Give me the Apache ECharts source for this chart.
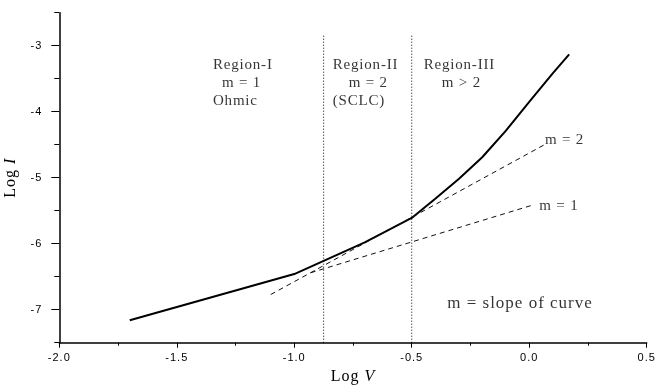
<!DOCTYPE html>
<html>
<head>
<meta charset="utf-8">
<script src="https://cdn.jsdelivr.net/npm/echarts@6/dist/echarts.min.js"></script>
<style>
html,body{margin:0;padding:0;background:#fff;}
#chart{width:655px;height:385px;}
</style>
</head>
<body>
<div id="chart"></div>
<script>
// ---- data ----
const curveX = [-1.7, -1.0, -0.7, -0.5, -0.4, -0.3, -0.2, -0.1, 0.0, 0.1, 0.17];
const curveY = [-7.16, -6.46, -5.98, -5.61, -5.32, -5.02, -4.69, -4.29, -3.85, -3.42, -3.13];
const m1X = [-0.93, 0.01];
const m1Y = [-6.44, -5.42];
const m2X = [-1.1, 0.07];
const m2Y = [-6.77, -4.49];
const boundaryX = [-0.875, -0.5];
const boundaryY = [-7.5, -2.84];
const xTicks = [-2.0, -1.5, -1.0, -0.5, 0.0, 0.5];
const yTickLabels = [-7, -6, -5, -4, -3];
const yMinorTicks = [-7.5, -6.5, -5.5, -4.5, -3.5, -2.5];
const annotTexts = ['Region-I', 'm = 1', 'Ohmic', 'Region-II', 'm = 2', '(SCLC)', 'Region-III', 'm > 2', 'm = 2', 'm = 1', 'm = slope of curve'];
const annotX = [-1.346, -1.308, -1.346, -0.836, -0.768, -0.836, -0.449, -0.372, 0.067, 0.043, -0.349];
const annotY = [-3.29, -3.565, -3.84, -3.29, -3.565, -3.84, -3.29, -3.565, -4.43, -5.43, -6.9];
const annotSize = [15, 15, 15, 15, 15, 15, 15, 15, 15, 15, 17];

// letter spacing of the original typesetting (rendering tweak only)
(function () {
  const P = CanvasRenderingContext2D.prototype;
  if (!('letterSpacing' in P)) return;
  function spacingFor(font) {
    const m = /(\d+(?:\.\d+)?)px/.exec(font || '');
    const size = m ? parseFloat(m[1]) : 12;
    if (/Sans/.test(font)) return '1px';
    if (/Serif/.test(font)) {
      if (size === 15) return '0.8px';
      if (size === 16) return '1px';
      if (size === 17) return '1px';
    }
    return '0px';
  }
  ['fillText', 'strokeText', 'measureText'].forEach(fn => {
    const orig = P[fn];
    P[fn] = function () {
      try { this.letterSpacing = spacingFor(this.font); } catch (e) {}
      return orig.apply(this, arguments);
    };
  });
})();

const zip = (xs, ys) => xs.map((x, i) => [x, ys[i]]);

const chart = echarts.init(document.getElementById('chart'), null, {renderer: 'canvas'});
const sans = 'Liberation Sans';
const serif = 'Liberation Serif';

const boundarySeries = boundaryX.map(bx => ({
  type: 'line', xAxisIndex: 0, yAxisIndex: 0,
  data: [[bx, boundaryY[0]], [bx, boundaryY[1]]],
  symbol: 'none', silent: true,
  lineStyle: {color: '#000', width: 1, type: [1, 2]}
}));

const nameStyle = {fontFamily: serif, fontSize: 16, color: '#000',
  rich: {i: {fontFamily: serif, fontSize: 16, fontStyle: 'italic', color: '#000'}}};

const option = {
  animation: false,
  backgroundColor: '#fff',
  grid: {left: 59.3, right: 8.3, top: 12.7, bottom: 42.3, containLabel: false, outerBoundsMode: 'none'},
  xAxis: {
    type: 'value', min: xTicks[0], max: xTicks[xTicks.length - 1], interval: 0.5,
    name: 'Log {i|V}', nameLocation: 'middle', nameGap: 26,
    nameTextStyle: nameStyle,
    axisLine: {onZero: false, lineStyle: {color: '#000', width: 1.5}},
    axisTick: {show: true, inside: false, length: 5, lineStyle: {color: '#000', width: 1}},
    minorTick: {show: true, splitNumber: 2, length: 3, lineStyle: {color: '#000', width: 1}},
    axisLabel: {fontFamily: sans, fontSize: 11, color: '#000', margin: 9,
      formatter: v => v.toFixed(1)},
    splitLine: {show: false}
  },
  yAxis: [{
    type: 'value', min: yMinorTicks[0], max: yMinorTicks[yMinorTicks.length - 1],
    name: 'Log {i|I}', nameLocation: 'middle', nameGap: 31, nameRotate: 90,
    nameTextStyle: nameStyle,
    axisLine: {onZero: false, lineStyle: {color: '#000', width: 1.5}},
    axisTick: {show: true, inside: false, length: 8, customValues: yTickLabels,
      lineStyle: {color: '#000', width: 1}},
    axisLabel: {fontFamily: sans, fontSize: 11, color: '#000', margin: 17,
      customValues: yTickLabels, formatter: v => String(v)},
    splitLine: {show: false}
  }, {
    type: 'value', position: 'left', min: yMinorTicks[0], max: yMinorTicks[yMinorTicks.length - 1],
    axisLine: {show: false, onZero: false},
    axisTick: {show: true, inside: false, length: 5, customValues: yMinorTicks,
      lineStyle: {color: '#000', width: 1}},
    axisLabel: {show: false},
    splitLine: {show: false}
  }],
  series: [
    {
      type: 'line', xAxisIndex: 0, yAxisIndex: 0,
      data: zip(curveX, curveY), symbol: 'none', silent: true,
      lineStyle: {color: '#000', width: 2}
    },
    {
      type: 'line', xAxisIndex: 0, yAxisIndex: 0,
      data: zip(m1X, m1Y), symbol: 'none', silent: true,
      lineStyle: {color: '#111', width: 1, type: [5, 4]}
    },
    {
      type: 'line', xAxisIndex: 0, yAxisIndex: 0,
      data: zip(m2X, m2Y), symbol: 'none', silent: true,
      lineStyle: {color: '#111', width: 1, type: [5, 4]}
    },
    ...boundarySeries,
    {
      type: 'scatter', xAxisIndex: 0, yAxisIndex: 0, silent: true,
      symbolSize: 1, itemStyle: {color: 'rgba(0,0,0,0)'},
      data: annotTexts.map((t, i) => ({
        value: [annotX[i], annotY[i]],
        label: {
          show: true, position: 'inside', formatter: t, align: 'left', verticalAlign: 'middle',
          fontFamily: serif, fontSize: annotSize[i], color: '#000'
        }
      }))
    }
  ]
};
chart.setOption(option);
</script>
</body>
</html>
